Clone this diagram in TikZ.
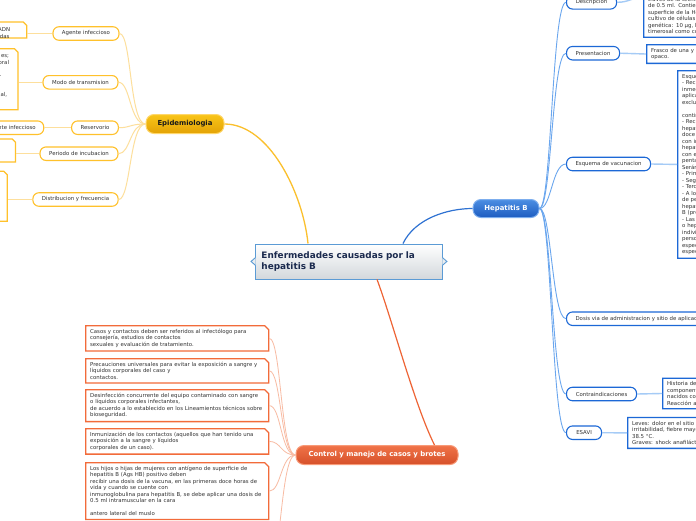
\documentclass[tikz,border=0pt]{standalone}
\usepackage{fontspec}
\setmainfont{DejaVu Sans}
\usetikzlibrary{shapes.misc,calc}
\definecolor{epiB}{HTML}{FFC12B}
\definecolor{epiLine}{HTML}{FDDF9C}
\definecolor{epiMain}{HTML}{FBC02D}
\definecolor{epiTop}{HTML}{F9C518}
\definecolor{epiBot}{HTML}{E3A205}
\definecolor{epiNodeB}{HTML}{FFD76A}
\definecolor{hepB}{HTML}{1C68D6}
\definecolor{hepLine}{HTML}{6AA6EE}
\definecolor{hepLeafLine}{HTML}{A5CBF6}
\definecolor{hepTop}{HTML}{4C8EE3}
\definecolor{hepBot}{HTML}{1D5CC0}
\definecolor{hepNodeB}{HTML}{7DAEEE}
\definecolor{hepMain}{HTML}{2F72D2}
\definecolor{ctrlB}{HTML}{F26B3A}
\definecolor{ctrlLine}{HTML}{F8BBA3}
\definecolor{ctrlTop}{HTML}{F07348}
\definecolor{ctrlBot}{HTML}{D6502A}
\definecolor{ctrlNodeB}{HTML}{F89A78}
\definecolor{ctrlMain}{HTML}{EE6435}
\definecolor{rootB}{HTML}{5B9BD5}
\definecolor{rootG}{HTML}{D3D8DC}
\definecolor{rootT}{HTML}{1B2A4E}
\definecolor{txt}{HTML}{333333}
\newcommand\mmsmall{\fontsize{5.4}{6.5}\selectfont}
\newcommand\mmbranch{\fontsize{6.9}{8}\selectfont\bfseries}
\newcommand\mmroot{\fontsize{8.9}{11}\selectfont\bfseries}
\tikzset{
  rootnode/.style={draw=rootB, line width=0.9pt, top color=white, bottom color=rootG,
    text=rootT, font=\mmroot, align=left, text width=175pt, inner xsep=6pt, minimum height=35pt},
  branchbase/.style={rounded corners=8pt, line width=1pt, font=\mmbranch, inner sep=0pt},
  epinode/.style={branchbase, draw=epiNodeB, top color=epiTop, bottom color=epiBot, text=black!90,
    minimum width=78pt, minimum height=19pt},
  hepnode/.style={branchbase, draw=hepNodeB, top color=hepTop, bottom color=hepBot, text=white,
    minimum width=66pt, minimum height=18pt},
  ctrlnode/.style={branchbase, draw=ctrlNodeB, top color=ctrlTop, bottom color=ctrlBot, text=white,
    minimum width=162pt, minimum height=19pt},
  pillbase/.style={rounded corners=6pt, line width=1.1pt, fill=white, font=\mmsmall, text=txt,
    minimum height=13.5pt, inner xsep=9pt, inner ysep=0pt},
  epichild/.style={pillbase, draw=epiB},
  hepchild/.style={pillbase, draw=hepB},
  leafbase/.style={chamfered rectangle, chamfered rectangle corners=north east,
    chamfered rectangle xsep=2pt, chamfered rectangle ysep=2pt, line width=1.3pt,
    fill=white, font=\mmsmall, text=txt, align=left, inner xsep=2.5pt, inner ysep=1.5pt},
  epileaf/.style={leafbase, draw=epiB},
  hepleaf/.style={leafbase, draw=hepB, text width=150pt},
  ctrlleaf/.style={leafbase, draw=ctrlB, text width=174pt},
  frag/.style={font=\mmsmall, text=txt, inner sep=0pt, anchor=east},
  epimain/.style={draw=epiMain, line width=1.3pt},
  hepmain/.style={draw=hepMain, line width=1.2pt},
  ctrlmain/.style={draw=ctrlMain, line width=1.2pt},
  epiconn/.style={draw=epiLine, line width=1pt},
  epileafconn/.style={draw=epiLine, line width=1.4pt},
  hepconn/.style={draw=hepLine, line width=0.9pt},
  hepleafconn/.style={draw=hepLeafLine, line width=1.4pt},
  ctrlconn/.style={draw=ctrlLine, line width=0.8pt}
}
\begin{document}
\begin{tikzpicture}[x=1pt,y=-1pt]
\useasboundingbox (0,0) rectangle (696,520);
\fill[white] (0,0) rectangle (696,520);
\clip (0,0) rectangle (696,520);

% ---------- root ----------
\node[rootnode, anchor=north west] (root) at (255,243.5) {Enfermedades causadas por la\\hepatitis B};
\filldraw[draw=rootB, fill=rootG!45, line width=0.9pt]
  ($(root.west)+(0.6,-4)$) -- ($(root.west)+(-4,0)$) -- ($(root.west)+(0.6,4)$);
\filldraw[draw=rootB, fill=rootG!45, line width=0.9pt]
  ($(root.east)+(-0.6,-4)$) -- ($(root.east)+(4,0)$) -- ($(root.east)+(-0.6,4)$);

% ---------- main branches ----------
\node[epinode] (epi) at (185,124) {Epidemiologia};
\node[hepnode] (hep) at (506,208.5) {Hepatitis B};
\node[ctrlnode] (ctrl) at (377,455) {Control y manejo de casos y brotes};

\coordinate (rootA) at ($(root.north west)+(53,0)$);
\coordinate (rootB) at ($(root.north west)+(148,0)$);
\coordinate (rootC) at ($(root.south west)+(122,0)$);
\coordinate (ctrlIn) at ($(ctrl.north west)+(139,0)$);

\draw[epimain] (rootA) .. controls +(-5,-50) and +(45,0) .. (epi.east);
\draw[hepmain] (rootB) .. controls +(12,-25) and +(-25,0) .. (hep.west);
\draw[ctrlmain] (rootC) .. controls +(15,40) and +(-20,-40) .. (ctrlIn);

% ---------- Epidemiologia ----------
\node[epichild, minimum width=66pt] (agente) at (86,33.5) {Agente infeccioso};
\node[epichild, minimum width=75pt] (modo) at (80.5,82.3) {Modo de transmision};
\node[epichild, minimum width=46pt] (reserv) at (95,127.7) {Reservorio};
\node[epichild, minimum width=78pt] (periodo) at (79,153.7) {Periodo de incubacion};
\node[epichild, minimum width=85pt] (distrib) at (75.5,199.5) {Distribucion y frecuencia};

\node[epileaf, anchor=north east, minimum width=66pt, minimum height=16pt] (lagente) at (25.5,23.3) {};
\node[epileaf, anchor=north east, minimum width=66pt, minimum height=61pt] (lmodo) at (16.7,50) {};
\node[epichild, anchor=east, minimum width=70pt] (lreserv) at (44.3,127.7) {};
\node[epileaf, anchor=north east, minimum width=56pt, minimum height=23pt] (lperiodo) at (14.3,140.2) {};
\node[epileaf, anchor=north east, minimum width=56pt, minimum height=50pt] (ldistrib) at (6,172.5) {};

\node[frag] (fa1) at (10.3,30) {ADN};
\node[frag] (fa2) at (9.6,36.7) {das};
\node[frag] (fm1) at (9.2,56.7) {es;};
\node[frag] (fm2) at (9.2,62.8) {oral};
\node[frag] (fm3) at (1.6,76.6) {-};
\node[frag] (fm4) at (7.4,95) {al,};
\node[frag] (fr1) at (36,127.7) {agente infeccioso};

\foreach \c in {agente,modo,reserv,periodo,distrib}
  \draw[epiconn] (epi.west) .. controls +(-16,0) and +(12,0) .. (\c.east);
\draw[epileafconn] (agente.west) -- (lagente.east |- agente.west);
\draw[epileafconn] (modo.west) -- (lmodo.east |- modo.west);
\draw[epileafconn] (reserv.west) -- (lreserv.east);
\draw[epileafconn] (periodo.west) -- (lperiodo.east |- periodo.west);
\draw[epileafconn] (distrib.west) -- (ldistrib.east |- distrib.west);

% ---------- Hepatitis B ----------
\node[hepchild, anchor=west, minimum width=50pt] (desc) at (566,2.3) {Descripcion};
\node[hepchild, anchor=west, minimum width=53pt] (pres) at (566,53.2) {Presentacion};
\node[hepchild, anchor=west, minimum width=84pt] (esq) at (566,164) {Esquema de vacunacion};
\node[hepchild, anchor=west] (dosis) at (566,318.7) {Dosis via de administracion y sitio de aplicacion};
\node[hepchild, anchor=west, minimum width=70pt] (contra) at (566,394) {Contraindicaciones};
\node[hepchild, anchor=west, minimum width=35pt] (esavi) at (566,432.7) {ESAVI};

\foreach \c in {desc,pres,esq,dosis,contra,esavi}
  \draw[hepconn] (hep.east) .. controls +(12,0) and +(-14,0) .. (\c.west);

\node[hepleaf, anchor=south west, inner ysep=1.5pt] (ldesc) at (643,37.8) {\begin{minipage}[c][72pt][b]{150pt}\raggedright
través de la técnica de ADN recombinante.\\
de 0.5 ml. Contiene antígeno de\\
superficie de la Hepatitis B, obtenido de\\
cultivo de células de levadura\\
genética: 10 µg, hidróxido de aluminio,\\
timerosal como conservador.\end{minipage}};
\node[hepleaf, anchor=north west] (lpres) at (646,44) {Frasco de una y diez dosis, de vidrio\\opaco.};
\node[hepleaf, anchor=north west] (lesq) at (677,70) {Esquema:\\
- Recién nacido:\\
inmediatamente\\
aplicar\\
exclusivamente\\[6.5pt]
continuar\\
- Recién\\
hepatitis\\
doce\\
con inmunoglobulina\\
hepatitis\\
con el\\
pentavalente\\
Serán:\\
- Primera\\
- Segunda\\
- Tercera\\
- A los\\
de personas\\
hepatitis\\
B (pre\\
- Las\\
o hepatitis\\
individuos\\
personas\\
especiales\\
especiales};
\node[hepleaf, anchor=north west] (lcontra) at (662,377.5) {Historia de\\componentes\\nacidos con\\Reacción a};
\node[hepleaf, anchor=north west] (lesavi) at (627,416.8) {Leves: dolor en el sitio de aplicación,\\irritabilidad, fiebre mayor de\\38.5 °C.\\Graves: shock anafiláctico.};

\draw[hepleafconn] (desc.east) .. controls +(12,0) and +(-12,0) .. (ldesc.west);
\draw[hepleafconn] (pres.east) -- (lpres.west);
\draw[hepleafconn] (esq.east) -- (lesq.west);
\draw[hepleafconn] (contra.east) -- (lcontra.west);
\draw[hepleafconn] (esavi.east) -- (lesavi.west);

% ---------- Control y manejo ----------
\node[ctrlleaf, anchor=north west] (c1) at (85,325) {Casos y contactos deben ser referidos al infectólogo para\\consejería, estudios de contactos\\sexuales y evaluación de tratamiento.};
\node[ctrlleaf, anchor=north west] (c2) at (85,358) {Precauciones universales para evitar la exposición a sangre y\\líquidos corporales del caso y\\contactos.};
\node[ctrlleaf, anchor=north west] (c3) at (85,389) {Desinfección concurrente del equipo contaminado con sangre\\o líquidos corporales infectantes,\\de acuerdo a lo establecido en los Lineamientos técnicos sobre\\bioseguridad.};
\node[ctrlleaf, anchor=north west] (c4) at (85,428) {Inmunización de los contactos (aquellos que han tenido una\\exposición a la sangre y líquidos\\corporales de un caso).};
\node[ctrlleaf, anchor=north west] (c5) at (85,462) {Los hijos o hijas de mujeres con antígeno de superficie de\\hepatitis B (Ags HB) positivo deben\\recibir una dosis de la vacuna, en las primeras doce horas de\\vida y cuando se cuente con\\inmunoglobulina para hepatitis B, se debe aplicar una dosis de\\0.5 ml intramuscular en la cara\\[6.5pt]antero lateral del muslo};
\coordinate (c6) at (269,570);

\foreach \c in {c1,c2,c3,c4,c5}
  \draw[ctrlconn] (ctrl.west) .. controls +(-15,0) and +(12,0) .. (\c.east);
\draw[ctrlconn] (ctrl.west) .. controls +(-15,0) and +(12,0) .. (c6);
\end{tikzpicture}
\end{document}
